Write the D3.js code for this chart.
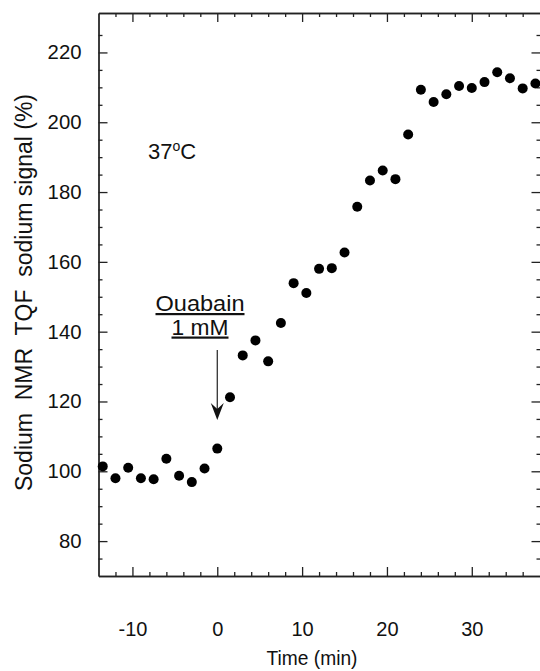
<!DOCTYPE html>
<html lang="en">
<head>
    <meta charset="UTF-8">
    <title>Sodium NMR TQF signal after ouabain</title>
    <script src="https://d3js.org/d3.v7.min.js"></script>
    <style>
        body { margin: 0; background: #fff; }
        text {
            font-family: "Liberation Sans", Arial, sans-serif;
            fill: #111;
        }
        .axis path, .axis line {
            stroke: #222;
            stroke-width: 1.3px;
        }
        .tick-label { font-size: 20px; }
    </style>
</head>
<body>
    <svg width="540" height="671"></svg>
    <script>
        // time (min) and TQF signal (%)
        const times = [-13.5, -12, -10.5, -9, -7.5, -6, -4.5, -3, -1.5, 0,
                       1.5, 3, 4.5, 6, 7.5, 9, 10.5, 12, 13.5, 15,
                       16.5, 18, 19.5, 21, 22.5, 24, 25.5, 27, 28.5, 30,
                       31.5, 33, 34.5, 36, 37.5];
        const signal = [101.4, 98.0, 101.0, 98.0, 97.7, 103.6, 98.7, 96.9, 100.8, 106.5,
                        121.2, 133.2, 137.5, 131.5, 142.5, 153.9, 151.1, 158.0, 158.2, 162.7,
                        175.8, 183.3, 186.2, 183.7, 196.5, 209.3, 205.8, 208.0, 210.4, 209.8,
                        211.5, 214.3, 212.6, 209.7, 211.1];

        const xMajor = [-10, 0, 10, 20, 30];
        const xMinor = [-12, -8, -6, -4, -2, 2, 4, 6, 8, 12, 14, 16, 18, 22, 24, 26, 28, 32, 34, 36];
        const yMajor = [80, 100, 120, 140, 160, 180, 200, 220];
        const yMinor = [75, 85, 90, 95, 105, 110, 115, 125, 130, 135, 145, 150, 155,
                        165, 170, 175, 185, 190, 195, 205, 210, 215, 225];

        const svg = d3.select("svg");
        const plotLeft = 98.5, plotRight = 540.5, plotTop = 13, plotBottom = 576;

        const x = d3.scaleLinear().domain([-14, 38.1]).range([plotLeft, plotRight]);
        const y = d3.scaleLinear().domain([70, 231.3]).range([plotBottom, plotTop]);

        // plain hyphen for negatives, like the original
        const plain = d => String(d);

        // frame: ticks on all four sides, pointing inwards
        function addAxis(axis, tx, ty) {
            return svg.append("g").attr("class", "axis")
                .attr("transform", `translate(${tx},${ty})`)
                .call(axis.tickSizeOuter(0));
        }

        addAxis(d3.axisBottom(x).tickValues(xMajor).tickSize(-9).tickPadding(46).tickFormat(plain), 0, plotBottom);
        addAxis(d3.axisBottom(x).tickValues(xMinor).tickSize(-4).tickFormat(""), 0, plotBottom);
        addAxis(d3.axisTop(x).tickValues(xMajor).tickSize(-9).tickFormat(""), 0, plotTop);
        addAxis(d3.axisTop(x).tickValues(xMinor).tickSize(-4).tickFormat(""), 0, plotTop);

        const yAxis = addAxis(d3.axisLeft(y).tickValues(yMajor).tickSize(-9).tickPadding(17).tickFormat(plain), plotLeft, 0);
        addAxis(d3.axisLeft(y).tickValues(yMinor).tickSize(-4).tickFormat(""), plotLeft, 0);
        addAxis(d3.axisRight(y).tickValues(yMajor).tickSize(-9).tickFormat(""), plotRight, 0);
        addAxis(d3.axisRight(y).tickValues(yMinor).tickSize(-4).tickFormat(""), plotRight, 0);

        svg.selectAll(".axis")
            .attr("font-family", null)
            .attr("font-size", null);
        svg.selectAll(".axis text")
            .attr("class", "tick-label")
            .attr("fill", "#111");

        // the original's y labels are a bit wider than the font
        yAxis.selectAll("text")
            .attr("textLength", d => String(d).length * 11.3)
            .attr("lengthAdjust", "spacingAndGlyphs");

        // data points
        svg.append("g")
            .selectAll("circle")
            .data(times)
            .enter().append("circle")
            .attr("cx", d => x(d))
            .attr("cy", (d, i) => y(signal[i]))
            .attr("r", 5)
            .attr("fill", "#000");

        // axis titles
        svg.append("text")
            .attr("x", 312)
            .attr("y", 665)
            .attr("text-anchor", "middle")
            .attr("font-size", 21)
            .attr("textLength", 91)
            .attr("lengthAdjust", "spacingAndGlyphs")
            .text("Time (min)");

        svg.append("text")
            .attr("transform", "translate(31.5,292.5) rotate(-90)")
            .attr("text-anchor", "middle")
            .attr("font-size", 23)
            .attr("xml:space", "preserve")
            .text("Sodium  NMR  TQF  sodium signal (%)");

        // annotations
        const temp = svg.append("text")
            .attr("x", 148)
            .attr("y", 159)
            .attr("font-size", 22);
        temp.append("tspan").text("37");
        temp.append("tspan").attr("dy", -8).attr("font-size", 14).text("o");
        temp.append("tspan").attr("dy", 8).text("C");

        svg.append("text")
            .attr("x", 200)
            .attr("y", 311)
            .attr("text-anchor", "middle")
            .attr("font-size", 22)
            .attr("textLength", 89)
            .attr("lengthAdjust", "spacingAndGlyphs")
            .attr("text-decoration", "underline")
            .text("Ouabain");
        svg.append("text")
            .attr("x", 200)
            .attr("y", 334.5)
            .attr("text-anchor", "middle")
            .attr("font-size", 22)
            .attr("textLength", 57)
            .attr("lengthAdjust", "spacingAndGlyphs")
            .attr("text-decoration", "underline")
            .text("1 mM");

        // arrow pointing at t = 0
        const ax = x(0);
        svg.append("line")
            .attr("x1", ax).attr("y1", 350)
            .attr("x2", ax).attr("y2", 412)
            .attr("stroke", "#222")
            .attr("stroke-width", 1.2);
        svg.append("path")
            .attr("d", `M${ax},420 L${ax - 6.5},403 L${ax},409 L${ax + 6.5},403 Z`)
            .attr("fill", "#111");
    </script>
</body>
</html>
